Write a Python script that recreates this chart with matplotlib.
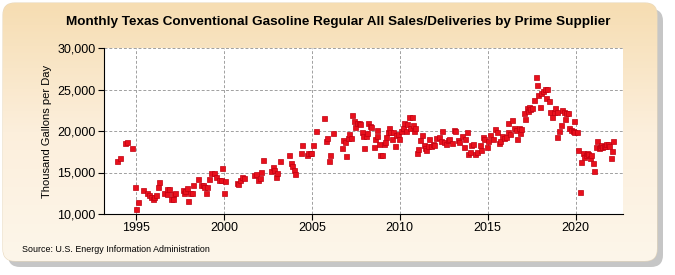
import numpy as np
import matplotlib
matplotlib.use("Agg")
import matplotlib.pyplot as plt
from matplotlib.patches import FancyBboxPatch
from matplotlib.colors import LinearSegmentedColormap

# decimal year, thousand gallons per day
years = [
    1993.94, 1994.07, 1994.38, 1994.49, 1994.75, 1994.92, 1994.98, 1995.09, 1995.38, 1995.64,
    1995.74, 1995.83, 1995.95, 1996.04, 1996.16, 1996.23, 1996.33, 1996.61, 1996.74, 1996.78,
    1996.87, 1996.97, 1997.10, 1997.12, 1997.23, 1997.65, 1997.71, 1997.80, 1997.88, 1997.97,
    1998.07, 1998.16, 1998.24, 1998.50, 1998.69, 1998.79, 1998.88, 1998.98, 1999.05, 1999.13,
    1999.28, 1999.45, 1999.56, 1999.72, 1999.83, 1999.92, 1999.98, 2000.09, 2000.74, 2000.83,
    2000.93, 2001.02, 2001.12, 2001.71, 2001.84, 2001.96, 2002.03, 2002.11, 2002.22, 2002.70,
    2002.79, 2002.85, 2002.97, 2003.04, 2003.19, 2003.71, 2003.80, 2003.90, 2003.97, 2004.05,
    2004.37, 2004.45, 2004.73, 2004.81, 2004.90, 2004.96, 2005.08, 2005.25, 2005.70, 2005.82,
    2005.89, 2005.99, 2006.05, 2006.22, 2006.73, 2006.79, 2006.90, 2006.96, 2007.05, 2007.13,
    2007.22, 2007.30, 2007.41, 2007.47, 2007.57, 2007.66, 2007.76, 2007.83, 2007.89, 2007.98,
    2008.06, 2008.16, 2008.21, 2008.31, 2008.38, 2008.52, 2008.61, 2008.69, 2008.73, 2008.84,
    2008.90, 2009.00, 2009.09, 2009.16, 2009.24, 2009.32, 2009.39, 2009.47, 2009.56, 2009.62,
    2009.75, 2009.81, 2009.92, 2009.98, 2010.08, 2010.17, 2010.27, 2010.34, 2010.42, 2010.51,
    2010.59, 2010.70, 2010.78, 2010.84, 2010.89, 2010.99, 2011.06, 2011.16, 2011.24, 2011.37,
    2011.46, 2011.52, 2011.62, 2011.69, 2011.79, 2011.88, 2011.96, 2012.09, 2012.24, 2012.34,
    2012.41, 2012.53, 2012.64, 2012.76, 2012.83, 2012.95, 2013.08, 2013.17, 2013.29, 2013.40,
    2013.52, 2013.63, 2013.73, 2013.80, 2013.88, 2013.99, 2014.07, 2014.18, 2014.28, 2014.39,
    2014.56, 2014.60, 2014.73, 2014.81, 2014.94, 2015.02, 2015.15, 2015.29, 2015.40, 2015.51,
    2015.63, 2015.72, 2015.82, 2015.91, 2016.03, 2016.16, 2016.18, 2016.29, 2016.37, 2016.50,
    2016.60, 2016.67, 2016.77, 2016.84, 2016.92, 2017.07, 2017.15, 2017.22, 2017.30, 2017.38,
    2017.41, 2017.53, 2017.62, 2017.74, 2017.79, 2017.87, 2017.97, 2018.06, 2018.16, 2018.27,
    2018.37, 2018.31, 2018.50, 2018.56, 2018.67, 2018.76, 2018.86, 2018.92, 2018.97, 2019.05,
    2019.16, 2019.24, 2019.32, 2019.39, 2019.45, 2019.56, 2019.62, 2019.75, 2019.83, 2019.90,
    2019.94, 2020.08, 2020.13, 2020.25, 2020.32, 2020.40, 2020.49, 2020.57, 2020.67, 2020.72,
    2020.81, 2020.89, 2020.99, 2021.05, 2021.16, 2021.24, 2021.31, 2021.37, 2021.44, 2021.52,
    2021.62, 2021.68, 2021.76, 2021.84, 2021.91, 2022.02, 2022.07, 2022.13,
]
sales = [
    16380, 16790, 18600, 18670, 18000, 13290, 10640, 11450, 12890, 12570,
    12290, 12090, 11770, 12010, 12250, 13290, 13860, 12570, 13050, 12450,
    13050, 11850, 11850, 12450, 12570, 12890, 12570, 12770, 13130, 11570,
    12490, 12570, 13530, 14260, 13450, 13450, 13290, 12570, 13290, 14180,
    14940, 14940, 14460, 14140, 14100, 15580, 12570, 13980, 13730, 13650,
    14060, 14420, 14300, 14730, 14810, 14090, 14330, 15050, 16540, 15140,
    15700, 15300, 14420, 14940, 16420, 17110, 16180, 15780, 15300, 14860,
    17390, 18310, 17110, 17310, 17390, 17350, 18310, 20000, 21610, 18840,
    19200, 16420, 17110, 19800, 17990, 18960, 18720, 17030, 19200, 19640,
    19200, 21970, 21200, 20520, 21000, 20920, 20840, 19880, 19360, 17990,
    19400, 19760, 21000, 20640, 20480, 18110, 19080, 19400, 20120, 18470,
    17150, 17150, 18390, 18670, 19240, 19920, 20360, 19880, 19080, 19880,
    18190, 19520, 19640, 19000, 20040, 20320, 20960, 19960, 20880, 21730,
    20400, 21730, 20720, 19960, 20400, 17390, 17830, 18920, 19520, 18270,
    17950, 17710, 18230, 19000, 18190, 18390, 18270, 19120, 19320, 18760,
    20000, 18630, 18470, 18920, 19000, 18590, 20160, 20040, 18920, 18630,
    19360, 18110, 19040, 19920, 17270, 17470, 18310, 18390, 17190, 17470,
    18270, 17710, 19240, 19000, 18110, 18840, 19560, 19040, 20280, 19920,
    18590, 18840, 19440, 19120, 19320, 19920, 21000, 19680, 21330, 20320,
    20160, 19040, 20320, 19720, 20200, 22170, 21490, 22730, 22370, 22930,
    22650, 22810, 23730, 26550, 25580, 24300, 22930, 24540, 24820, 25020,
    25060, 23940, 23650, 22330, 21650, 22290, 22770, 22250, 19320, 20040,
    20720, 22530, 22250, 21450, 22170, 22130, 20360, 20120, 20040, 21250,
    19840, 19920, 17710, 12650, 16270, 17310, 16910, 17110, 17310, 17190,
    16790, 17110, 16180, 15180, 18110, 18840, 17910, 18110, 18270, 18070,
    18150, 18190, 18390, 18430, 18230, 16790, 17630, 18840,
]
tick_years = [1995, 2000, 2005, 2010, 2015, 2020]
y_ticks = [10000, 15000, 20000, 25000, 30000]

plt.rcParams['font.family'] = ['Liberation Sans', 'DejaVu Sans']

fig = plt.figure(figsize=(6.75, 2.75), dpi=100)

# background: cream gradient rounded panel with a grey shadow
bg = fig.add_axes([0, 0, 1, 1], zorder=-10)
bg.set_xlim(0, 675)
bg.set_ylim(275, 0)
bg.axis('off')
shadow = FancyBboxPatch((8, 9), 655, 258, boxstyle="round,pad=0,rounding_size=12",
                        fc='#b8b8b8', ec='none', alpha=0.8)
bg.add_patch(shadow)
panel = FancyBboxPatch((3, 3), 654, 258, boxstyle="round,pad=0,rounding_size=12",
                       fc='none', ec='#e8d8bc', lw=0.8)
bg.add_patch(panel)
grad = np.linspace(0, 1, 256).reshape(-1, 1)
cmap = LinearSegmentedColormap.from_list('cream', ['#f6ddb2', '#fcefdc', '#fdf6ea'])
im = bg.imshow(grad, cmap=cmap, extent=[3, 657, 261, 3], aspect='auto', zorder=1)
im.set_clip_path(panel)

ax = fig.add_axes([104 / 675, 1 - 214 / 275, (623 - 104) / 675, (214 - 48) / 275])
ax.set_facecolor('white')
ax.plot(years, sales, linestyle='none', marker='s', markersize=3.6,
        markerfacecolor='#e8101c', markeredgecolor='#c00010', markeredgewidth=0.5,
        clip_on=False, zorder=3)

ax.set_xlim(1993.18, 2022.7)
ax.set_ylim(10000, 30000)
ax.set_xticks(tick_years)
ax.set_yticks(y_ticks)
ax.set_yticklabels([f'{v:,}' for v in y_ticks])
ax.grid(True, color='#a0a0a0', linestyle=(0, (3, 2)), linewidth=0.7)
ax.set_axisbelow(True)
for s in ['top', 'right']:
    ax.spines[s].set_visible(False)
for s in ['left', 'bottom']:
    ax.spines[s].set_color('black')
    ax.spines[s].set_linewidth(0.8)
ax.tick_params(axis='both', labelsize=9, length=4, width=0.8, colors='black', pad=2)
ax.set_ylabel('Thousand Gallons per Day', fontsize=8, labelpad=4)

fig.text(338 / 675, 1 - 22 / 275, 'Monthly Texas Conventional Gasoline Regular All Sales/Deliveries by Prime Supplier',
         ha='center', va='center', fontsize=9.7, fontweight='bold')
fig.text(22 / 675, 1 - 250 / 275, 'Source: U.S. Energy Information Administration',
         ha='left', va='center', fontsize=6.4)

fig.savefig('out.png', dpi=100)
